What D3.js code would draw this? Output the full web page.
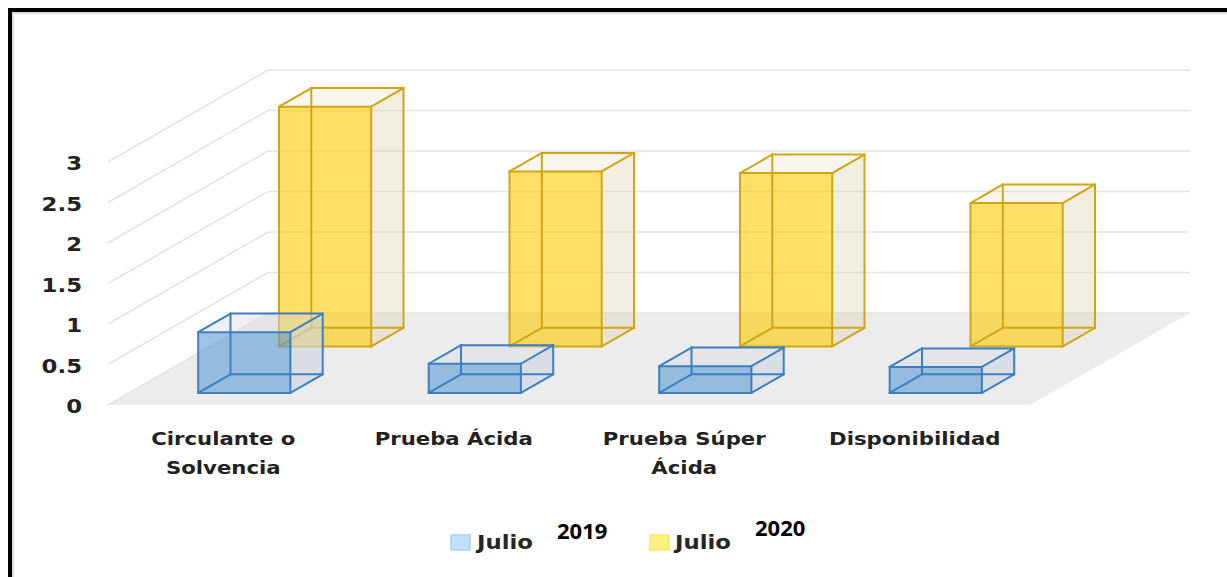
<!DOCTYPE html>
<html>
<head>
<meta charset="utf-8">
<script src="https://cdn.jsdelivr.net/npm/d3@7"></script>
<style>
  html, body { margin: 0; padding: 0; background: #fff; }
  svg { display: block; }
</style>
</head>
<body>
<svg id="chart" width="1227" height="577"></svg>
<script>
// Ratios by category, July 2019 vs July 2020
const categories = ["Circulante o Solvencia", "Prueba Ácida", "Prueba Súper Ácida", "Disponibilidad"];
const seriesNames = ["Julio 2019", "Julio 2020"];
const julio2019 = [0.75, 0.36, 0.33, 0.32];
const julio2020 = [2.96, 2.16, 2.14, 1.77];
const yTicks = [0, 0.5, 1, 1.5, 2, 2.5, 3];

const svg = d3.select("#chart");

// Oblique projection: the full floor depth shifts points by (DX, DY)
const DX = 160, DY = -92;
const x = d3.scaleBand().domain(categories).range([108, 1030]).paddingInner(0.6).paddingOuter(0.3);
const z = d3.scaleBand().domain(seriesNames).range([-0.02, 0.99]).paddingInner(0.6).paddingOuter(0.3);
const y = d3.scaleLinear().domain([0, 3]).range([405, 162]);
const P = (px, v, d) => [px + DX * d, y(v) + DY * d];

const styles = {
  "Julio 2019": {
    edge: "#3c7fc2",
    front: "rgba(91,155,213,0.6)",
    side: "rgba(205,213,224,0.62)",
    top: "rgba(214,220,228,0.42)"
  },
  "Julio 2020": {
    edge: "#d2a516",
    front: "rgba(255,204,0,0.6)",
    side: "rgba(220,210,170,0.36)",
    top: "rgba(220,210,170,0.2)"
  }
};

// Outer frame
svg.append("rect").attr("x", 13).attr("y", 13).attr("width", 1300).attr("height", 700)
  .attr("fill", "none").attr("stroke", "#dcdcdc").attr("stroke-width", 2);
svg.append("rect").attr("x", 10).attr("y", 10).attr("width", 1300).attr("height", 700)
  .attr("fill", "none").attr("stroke", "#000").attr("stroke-width", 4);

// Floor
const [x0, x1] = x.range();
const floorPts = [P(x0, 0, 0), P(x1, 0, 0), P(x1, 0, 1), P(x0, 0, 1)];
svg.append("polygon").attr("points", floorPts.map(p => p.join(",")).join(" "))
  .attr("fill", "#ececec");

// Wall gridlines (side wall and back wall)
const grid = svg.append("g").attr("stroke", "#e4e4e4").attr("stroke-width", 1.6).attr("fill", "none");
yTicks.forEach(t => {
  const a = P(x0, t, 0), b = P(x0, t, 1), c = P(x1, t, 1);
  grid.append("polyline").attr("points", [a, b, c].map(p => p.join(",")).join(" "));
});

// Y axis labels
const yAxis = d3.axisLeft(y).tickValues(yTicks).tickSize(0).tickPadding(26).tickFormat(d => String(d));
const gy = svg.append("g").attr("transform", `translate(${x0},0)`).call(yAxis);
gy.select(".domain").remove();
gy.selectAll("text")
  .attr("x", 0).attr("dy", null)
  .attr("dominant-baseline", "central")
  .attr("transform", "translate(-26,1) scale(1.14,1)")
  .attr("font-family", "DejaVu Sans").attr("font-weight", "bold").attr("font-size", 20)
  .attr("fill", "#222");

// 3D boxes: back row first so the front row sits over it
const seriesData = [
  { name: "Julio 2019", values: julio2019 },
  { name: "Julio 2020", values: julio2020 }
];
const line = pts => pts.map(p => p.join(",")).join(" ");

[...seriesData].reverse().forEach(s => {
  const st = styles[s.name];
  const d0 = z(s.name), d1 = d0 + z.bandwidth();
  const g = svg.append("g");
  categories.forEach((c, i) => {
    const v = s.values[i];
    const xa = x(c), xb = xa + x.bandwidth();
    // corners
    const f00 = P(xa, 0, d0), f10 = P(xb, 0, d0), f11 = P(xb, v, d0), f01 = P(xa, v, d0);
    const b00 = P(xa, 0, d1), b10 = P(xb, 0, d1), b11 = P(xb, v, d1), b01 = P(xa, v, d1);
    // faces
    g.append("polygon").attr("points", line([f10, b10, b11, f11])).attr("fill", st.side);
    g.append("polygon").attr("points", line([f01, f11, b11, b01])).attr("fill", st.top);
    g.append("polygon").attr("points", line([f00, f10, f11, f01])).attr("fill", st.front);
    // edges
    const edges = [
      [f00, f10], [f10, f11], [f11, f01], [f01, f00],
      [b00, b10], [b10, b11], [b11, b01], [b01, b00],
      [f00, b00], [f10, b10], [f11, b11], [f01, b01]
    ];
    edges.forEach(([p, q]) => {
      g.append("line")
        .attr("x1", p[0]).attr("y1", p[1]).attr("x2", q[0]).attr("y2", q[1])
        .attr("stroke", st.edge).attr("stroke-width", 2).attr("stroke-linecap", "round");
    });
  });
});

// Category labels, wrapped greedily at 12 characters
function wrap(label, maxChars) {
  const words = label.split(" ");
  const lines = [];
  let cur = "";
  words.forEach(w => {
    const next = cur ? cur + " " + w : w;
    if (next.length > maxChars && cur) { lines.push(cur); cur = w; }
    else cur = next;
  });
  if (cur) lines.push(cur);
  return lines;
}
const catG = svg.append("g")
  .attr("font-family", "DejaVu Sans").attr("font-weight", "bold").attr("font-size", 18)
  .attr("fill", "#222").attr("text-anchor", "middle");
categories.forEach(c => {
  const cx = x(c) + x.bandwidth() / 2;
  wrap(c, 12).forEach((ln, k) => {
    catG.append("text")
      .attr("transform", `translate(${cx},${445 + k * 29}) scale(1.18,1)`)
      .text(ln);
  });
});

// Legend
const legend = [
  { name: "Julio 2019", fill: "#bfe0f8", stroke: "#a6d2f2", sx: 451, tx: 477, yx: 557, yb: 539 },
  { name: "Julio 2020", fill: "#fff080", stroke: "#ffe566", sx: 650, tx: 675, yx: 755, yb: 536 }
];
legend.forEach(l => {
  const [word, year] = l.name.split(" ");
  svg.append("rect").attr("x", l.sx).attr("y", 535).attr("width", 19).attr("height", 15)
    .attr("fill", l.fill).attr("stroke", l.stroke).attr("stroke-width", 1.5);
  svg.append("text")
    .attr("transform", `translate(${l.tx},549) scale(1.14,1)`)
    .attr("font-family", "DejaVu Sans").attr("font-weight", "bold").attr("font-size", 20)
    .attr("fill", "#262626").text(word);
  svg.append("text").attr("x", l.yx).attr("y", l.yb)
    .attr("font-family", "Noto Sans").attr("font-weight", "bold").attr("font-size", 22)
    .attr("fill", "#000").text(year);
});
</script>
</body>
</html>
